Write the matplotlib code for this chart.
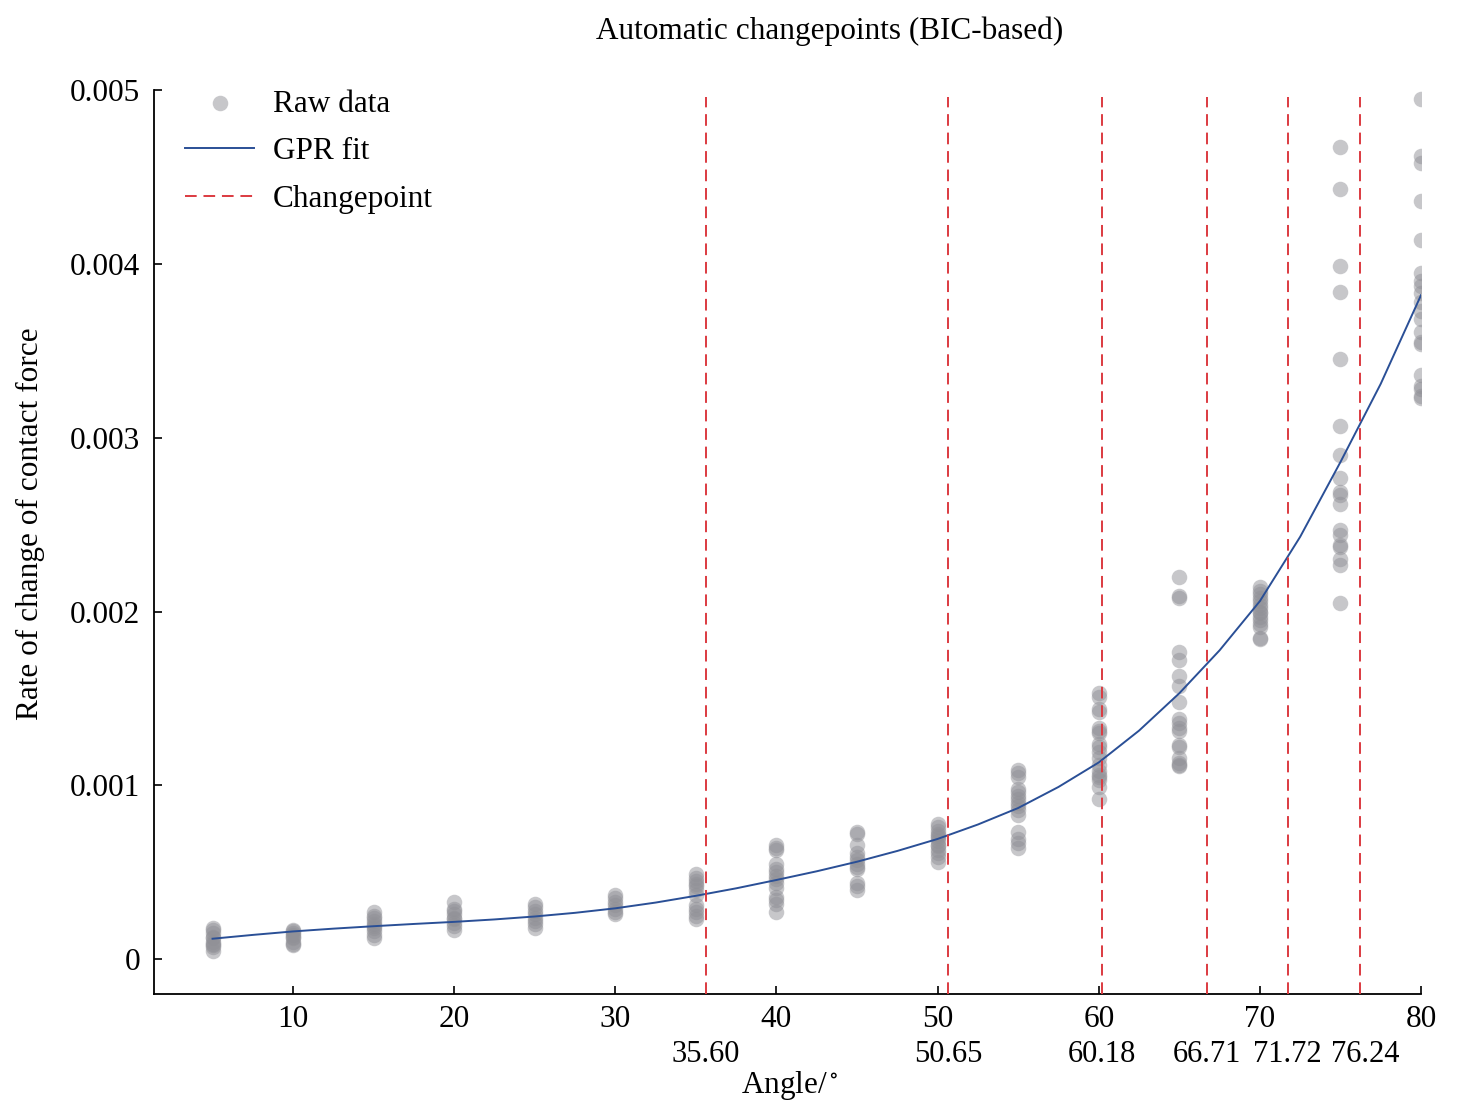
import numpy as np
import matplotlib
matplotlib.use("Agg")
from matplotlib import pyplot as plt
from matplotlib import transforms

plt.rcParams['font.family'] = ['Liberation Serif', 'DejaVu Serif']
plt.rcParams['mathtext.fontset'] = 'stix'

# raw measurements per angle (values in 1e-3)
angles = [5, 10, 15, 20, 25, 30, 35, 40, 45, 50, 55, 60, 65, 70, 75, 80]
rate_05 = [0.18, 0.17, 0.15, 0.13, 0.12, 0.10, 0.09, 0.08, 0.07, 0.05]
rate_10 = [0.17, 0.16, 0.15, 0.14, 0.13, 0.12, 0.10, 0.09, 0.08]
rate_15 = [0.27, 0.25, 0.24, 0.22, 0.20, 0.19, 0.18, 0.16, 0.14, 0.12]
rate_20 = [0.33, 0.29, 0.28, 0.26, 0.24, 0.23, 0.21, 0.19, 0.17]
rate_25 = [0.32, 0.30, 0.28, 0.26, 0.24, 0.22, 0.20, 0.18]
rate_30 = [0.37, 0.35, 0.33, 0.31, 0.29, 0.27, 0.26]
rate_35 = [0.49, 0.47, 0.45, 0.43, 0.42, 0.40, 0.37, 0.31, 0.29, 0.27, 0.25, 0.23]
rate_40 = [0.66, 0.64, 0.63, 0.55, 0.52, 0.50, 0.48, 0.46, 0.44, 0.41, 0.36, 0.34, 0.32, 0.27]
rate_45 = [0.73, 0.72, 0.66, 0.61, 0.59, 0.57, 0.55, 0.53, 0.52, 0.44, 0.42, 0.40]
rate_50 = [0.78, 0.76, 0.74, 0.72, 0.71, 0.70, 0.68, 0.66, 0.65, 0.63, 0.61, 0.59, 0.56]
rate_55 = [1.09, 1.07, 1.05, 0.98, 0.96, 0.94, 0.92, 0.90, 0.88, 0.86, 0.83, 0.73, 0.69, 0.67, 0.64]
rate_60 = [1.53, 1.51, 1.44, 1.42, 1.33, 1.31, 1.30, 1.24, 1.22, 1.19, 1.16, 1.12, 1.08, 1.06, 1.05, 1.03, 0.99, 0.92]
rate_65 = [2.20, 2.09, 2.08, 1.77, 1.72, 1.63, 1.57, 1.48, 1.38, 1.36, 1.33, 1.31, 1.23, 1.22, 1.16, 1.13, 1.12, 1.11]
rate_70 = [2.14, 2.12, 2.10, 2.08, 2.06, 2.04, 2.02, 2.00, 1.99, 1.97, 1.95, 1.93, 1.91, 1.85, 1.84]
rate_75 = [4.67, 4.43, 3.99, 3.84, 3.45, 3.07, 2.90, 2.77, 2.69, 2.67, 2.62, 2.47, 2.44, 2.38, 2.37, 2.30, 2.27, 2.05]
rate_80 = [4.95, 4.62, 4.58, 4.36, 4.14, 3.95, 3.90, 3.87, 3.83, 3.78, 3.73, 3.68, 3.61, 3.55, 3.54, 3.36, 3.30, 3.28, 3.24, 3.23]

# GPR fit (1e-3)
fit_x = [5, 7.5, 10, 12.5, 15, 17.5, 20, 22.5, 25, 27.5, 30, 32.5, 35, 37.5, 40, 42.5,
         45, 47.5, 50, 52.5, 55, 57.5, 60, 62.5, 65, 67.5, 70, 72.5, 75, 77.5, 80]
fit_y = [0.118, 0.140, 0.160, 0.176, 0.190, 0.203, 0.215, 0.229, 0.246, 0.267, 0.293,
         0.326, 0.365, 0.408, 0.456, 0.506, 0.561, 0.623, 0.692, 0.775, 0.870, 0.991,
         1.132, 1.315, 1.530, 1.777, 2.060, 2.430, 2.860, 3.310, 3.820]

changepoints = [35.60, 50.65, 60.18, 66.71, 71.72, 76.24]

yticks = [0, 0.001, 0.002, 0.003, 0.004, 0.005]
ytick_labels = ['0', '0.001', '0.002', '0.003', '0.004', '0.005']
xticks = [10, 20, 30, 40, 50, 60, 70, 80]


columns = [rate_05, rate_10, rate_15, rate_20, rate_25, rate_30, rate_35, rate_40,
           rate_45, rate_50, rate_55, rate_60, rate_65, rate_70, rate_75, rate_80]
xs, ys = [], []
for a, col in zip(angles, columns):
    xs += [a] * len(col)
    ys += [v * 1e-3 for v in col]

FS = 22.5

fig = plt.figure(figsize=(14.77, 11.11), dpi=100)
ax = fig.add_axes([0.1043, 0.1053, 0.8578, 0.8137])

ax.scatter(xs, ys, s=125, color='#919197', alpha=0.5, linewidths=0,
           label='Raw data', zorder=2)
ax.plot(fit_x, np.array(fit_y) * 1e-3, color='#2a4f96', lw=1.4,
        label='GPR fit', zorder=3)
for i, c in enumerate(changepoints):
    ax.axvline(c, ymin=0, ymax=0.992, color='#dc3a40', lw=1.4,
               ls=(0, (6, 3.5)), label='Changepoint' if i == 0 else None, zorder=4)

ax.set_xlim(1.37, 80)
ax.set_ylim(-0.0002, 0.005)
for s in ['top', 'right']:
    ax.spines[s].set_visible(False)
for s in ['left', 'bottom']:
    ax.spines[s].set_linewidth(1.3)

ax.set_xticks(xticks)
ax.set_yticks(yticks)
ax.set_yticklabels(ytick_labels)
ax.set_xticks(changepoints, minor=True)
ax.set_xticklabels(['%.2f' % c for c in changepoints], minor=True)
ax.tick_params(which='major', direction='in', length=6, width=1.2,
               labelsize=FS)
ax.tick_params(axis='x', which='major', pad=8)
ax.tick_params(axis='y', which='major', pad=10)
ax.tick_params(axis='x', which='minor', length=0, pad=33, labelsize=22)

# nudge the last changepoint label so it does not run into its neighbour
last = ax.xaxis.get_minorticklabels()[-1]
last.set_transform(last.get_transform() +
                   transforms.ScaledTranslation(5 / 100, 0, fig.dpi_scale_trans))

ax.set_xlabel('Angle/$^\\circ$', fontsize=FS)
ax.xaxis.set_label_coords(0.502, -0.083)
ax.set_ylabel('Rate of change of contact force', fontsize=FS)
ax.yaxis.set_label_coords(-0.086, 0.52)

fig.text(0.562, 0.972, 'Automatic changepoints (BIC-based)', fontsize=FS,
         ha='center', va='center')

ax.legend(loc='upper left', bbox_to_anchor=(0.0, 1.035), frameon=False,
          fontsize=FS, handlelength=2.2, handletextpad=0.6,
          labelspacing=0.6, borderaxespad=0.6)

plt.savefig('out.png', dpi=100)
